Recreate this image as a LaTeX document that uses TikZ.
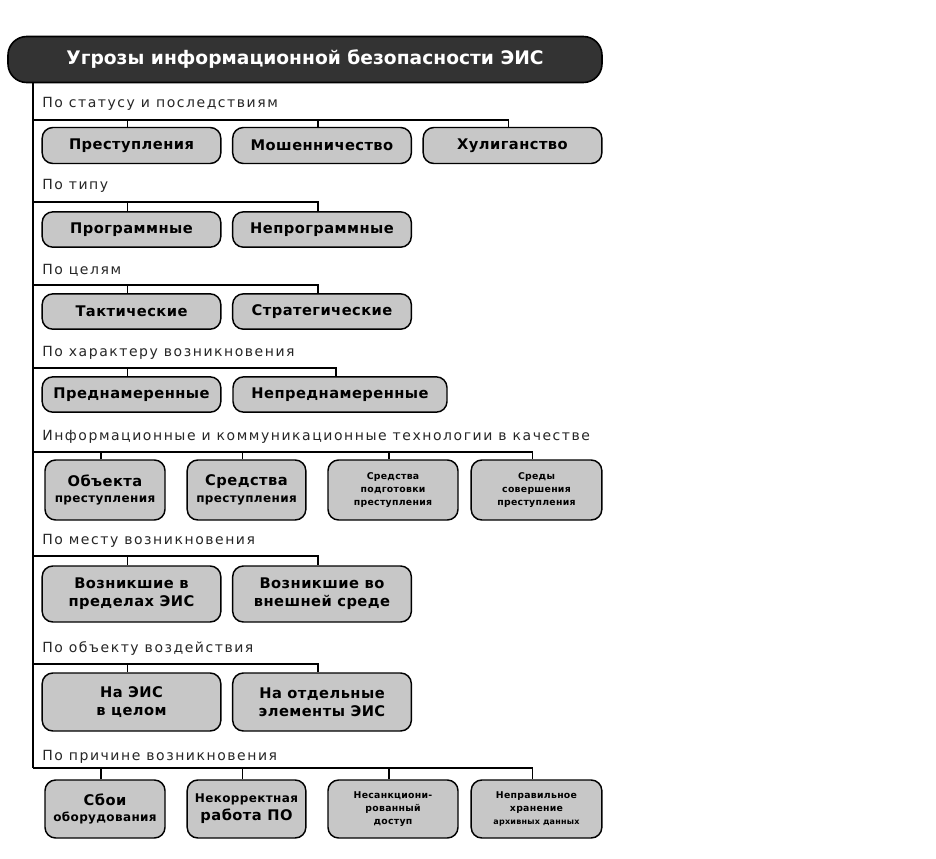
\documentclass[tikz,border=0pt]{standalone}
\usepackage{fontspec}
\setmainfont{DejaVu Sans}
\newfontfamily\lblfont[LetterSpace=11]{DejaVu Sans}
\newfontfamily\boxfont[LetterSpace=3]{DejaVu Sans}
\begin{document}
\begin{tikzpicture}[x=0.75pt,y=-0.75pt,
  titlebox/.style={draw=black,line width=1.2pt,fill=black!80,rounded corners=14pt,
    text=white,font=\bfseries\fontsize{14}{17}\selectfont,inner sep=0pt},
  catbox/.style={draw=black,line width=1.1pt,fill=black!22,rounded corners=8pt,
    font=\boxfont\bfseries\fontsize{11}{13.5}\selectfont,align=center,inner sep=0pt},
  small/.style={font=\boxfont\bfseries\fontsize{7}{9.5}\selectfont},
  lbl/.style={anchor=west,inner sep=0pt,font=\lblfont\fontsize{10.5}{12}\selectfont,text=black!85},
  conn/.style={draw=black,line width=1.1pt}]
\useasboundingbox[fill=white] (0,0) rectangle (936,858);

% title
\node[titlebox,minimum width=445.5pt,minimum height=34.5pt] (title) at (305,59.5)
  {Угрозы информационной безопасности ЭИС};

% section labels
\node[lbl] (l1) at (42,104) {По статусу и последствиям};
\node[lbl] (l2) at (42,186) {По типу};
\node[lbl] (l3) at (42,270) {По целям};
\node[lbl] (l4) at (42,353) {По характеру возникновения};
\node[lbl] (l5) at (42,437) {Информационные и коммуникационные технологии в качестве};
\node[lbl] (l6) at (42,541) {По месту возникновения};
\node[lbl] (l7) at (42,649) {По объекту воздействия};
\node[lbl] (l8) at (42,757) {По причине возникновения};

% horizontal line anchors on the spine
\coordinate (h1) at (33,120);
\coordinate (h2) at (33,202);
\coordinate (h3) at (33,285);
\coordinate (h4) at (33,368);
\coordinate (h5) at (33,452);
\coordinate (h6) at (33,556);
\coordinate (h7) at (33,664);
\coordinate (h8) at (33,768);

% row 1
\node[catbox,minimum width=134pt,minimum height=27pt] (b11) at (131.5,145.5) {Преступления};
\node[catbox,minimum width=134pt,minimum height=27pt] (b12) at (322,145.5) {Мошенничество};
\node[catbox,minimum width=134pt,minimum height=27pt] (b13) at (512.5,145.5) {Хулиганство};
% row 2
\node[catbox,minimum width=134pt,minimum height=26.5pt] (b21) at (131.5,229.5) {Программные};
\node[catbox,minimum width=134pt,minimum height=26.5pt] (b22) at (322,229.5) {Непрограммные};
% row 3
\node[catbox,minimum width=134pt,minimum height=26.5pt] (b31) at (131.5,311.5) {Тактические};
\node[catbox,minimum width=134pt,minimum height=26.5pt] (b32) at (322,311.5) {Стратегические};
% row 4
\node[catbox,minimum width=134pt,minimum height=26.5pt] (b41) at (131.5,394.5) {Преднамеренные};
\node[catbox,minimum width=160.5pt,minimum height=26.5pt] (b42) at (340,394.5) {Непреднамеренные};
% row 5
\node[catbox,minimum width=90pt,minimum height=45pt] (b51) at (105,490)
  {Объекта\\[-1pt]{\small преступления}};
\node[catbox,minimum width=89pt,minimum height=45pt] (b52) at (246.5,490)
  {Средства\\[-1pt]{\small преступления}};
\node[catbox,small,minimum width=97.5pt,minimum height=45pt] (b53) at (393,490)
  {Средства\\подготовки\\преступления};
\node[catbox,small,minimum width=98pt,minimum height=45pt] (b54) at (536.5,490)
  {Среды\\совершения\\преступления};
% row 6
\node[catbox,minimum width=134pt,minimum height=42pt] (b61) at (131.5,594)
  {Возникшие в\\пределах ЭИС};
\node[catbox,minimum width=134pt,minimum height=42pt] (b62) at (322,594)
  {Возникшие во\\внешней среде};
% row 7
\node[catbox,minimum width=134pt,minimum height=43.5pt] (b71) at (131.5,702)
  {На ЭИС\\в целом};
\node[catbox,minimum width=134pt,minimum height=43.5pt] (b72) at (322,702)
  {На отдельные\\элементы ЭИС};
% row 8
\node[catbox,minimum width=90pt,minimum height=43.5pt] (b81) at (105,809)
  {Сбои\\[-1pt]{\small оборудования}};
\node[catbox,minimum width=89pt,minimum height=43.5pt] (b82) at (246.5,809)
  {{\small Некорректная}\\работа ПО};
\node[catbox,small,minimum width=97.5pt,minimum height=43.5pt] (b83) at (393,809)
  {Несанкциони-\\рованный\\доступ};
\node[catbox,small,minimum width=98pt,minimum height=43.5pt] (b84) at (536.5,809)
  {Неправильное\\хранение\\{\fontsize{6}{8}\selectfont архивных данных}};

% spine
\draw[conn] (title.south -| h8) -- (h8);

% connectors
\foreach \h/\last/\list in {h1/b13/{b11,b12,b13},h2/b22/{b21,b22},h3/b32/{b31,b32},
  h4/b42/{b41,b42},h5/b54/{b51,b52,b53,b54},h6/b62/{b61,b62},h7/b72/{b71,b72},h8/b84/{b81,b82,b83,b84}}{
  \draw[conn] (\h) -| ([xshift=-3pt]\last.north);
  \foreach \b in \list {\draw[conn] ([xshift=-3pt]\b.north) -- ([xshift=-3pt]\b.north |- \h);}
}
\end{tikzpicture}
\end{document}
